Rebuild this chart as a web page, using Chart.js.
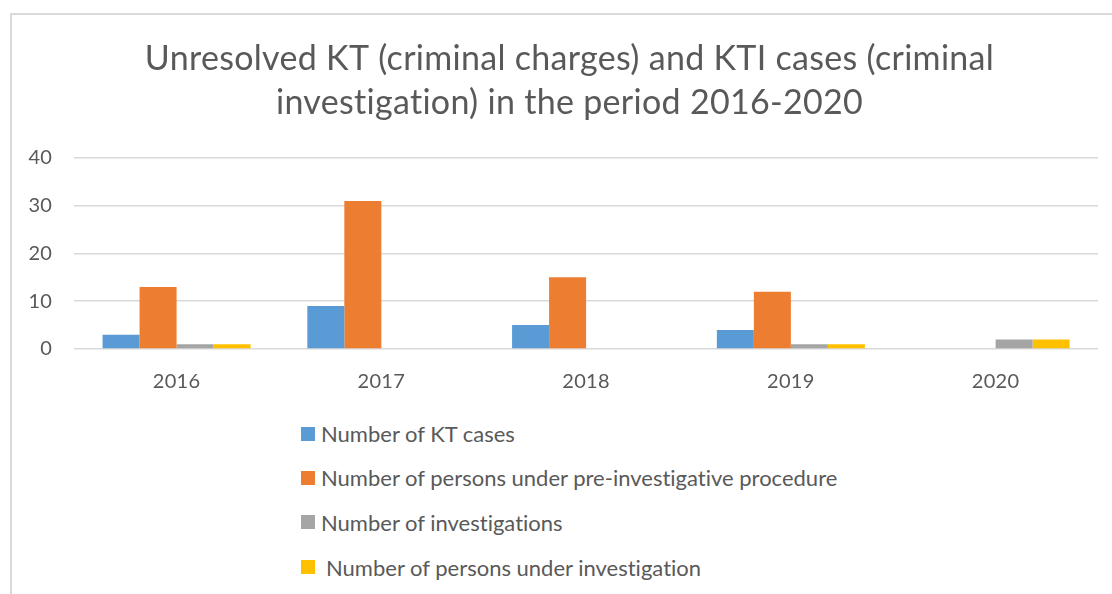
<!DOCTYPE html>
<html>
<head>
<meta charset="utf-8">
<script src="https://cdn.jsdelivr.net/npm/chart.js@4"></script>
<style>
  html, body { margin: 0; padding: 0; background: #fff; }
  #wrap { position: relative; width: 1112px; height: 594px; overflow: hidden; }
  #frame { position: absolute; left: 10px; top: 13px; width: 1200px; height: 700px;
           border-left: 2px solid #d9d9d9; border-top: 2px solid #d9d9d9; }
  #chartBox { position: absolute; left: 0; top: 0; width: 1112px; height: 407px; }
  #legend { position: absolute; left: 301px; top: 0; font-family: Lato, sans-serif;
            font-size: 22px; color: #595959; font-variant-ligatures: none; }
  .item { position: absolute; height: 30px; white-space: nowrap; display: flex; align-items: center; }
  .box { width: 14px; height: 14px; margin-right: 6px; flex: none; }
</style>
</head>
<body>
<div id="wrap">
  <div id="frame"></div>
  <div id="chartBox"><canvas id="chart"></canvas></div>
  <div id="legend"></div>
</div>
<script>
const years = ["2016", "2017", "2018", "2019", "2020"];
const ktCases = [3, 9, 5, 4, 0];
const preInvestigation = [13, 31, 15, 12, 0];
const investigations = [1, 0, 0, 1, 2];
const personsInvestigated = [1, 0, 0, 1, 2];
const seriesNames = [
  "Number of KT cases",
  "Number of persons under pre-investigative procedure",
  "Number of investigations",
  "Number of persons under investigation"
];
const colors = ["#5b9bd5", "#ed7d31", "#a5a5a5", "#ffc000"];

const textColor = "#595959";
const fontFamily = "Lato, sans-serif";

// small letter spacing keeps canvas text from using the "ti" ligature,
// and the title is centred over the frame rather than the whole canvas
const tweaks = {
  id: "tweaks",
  afterLayout(chart) {
    if (chart.titleBlock) chart.titleBlock.left = 41;
  },
  beforeDraw(chart) { chart.ctx.letterSpacing = "0.3px"; }
};

const chart = new Chart(document.getElementById("chart"), {
  type: "bar",
  data: {
    labels: years,
    datasets: [ktCases, preInvestigation, investigations, personsInvestigated].map((d, i) => ({
      label: seriesNames[i],
      data: d,
      backgroundColor: colors[i],
      categoryPercentage: 0.723,
      barPercentage: 1.0
    }))
  },
  plugins: [tweaks],
  options: {
    responsive: true,
    maintainAspectRatio: false,
    animation: false,
    layout: { padding: { left: 7, right: 14, top: 37, bottom: 0 } },
    plugins: {
      legend: { display: false },
      tooltip: { enabled: false },
      title: {
        display: true,
        text: ["Unresolved KT (criminal charges) and KTI cases (criminal", "investigation) in the period 2016-2020"],
        color: textColor,
        font: { family: fontFamily, size: 34, weight: "normal", lineHeight: 1.294 },
        padding: { top: 0, bottom: 33 }
      }
    },
    scales: {
      x: {
        grid: { display: false },
        border: { display: false },
        ticks: { color: textColor, font: { family: fontFamily, size: 20 }, padding: 13 }
      },
      y: {
        min: 0,
        max: 40,
        ticks: { stepSize: 10, color: textColor, font: { family: fontFamily, size: 20 }, padding: 22 },
        grid: { color: "#d9d9d9", lineWidth: 1.5, drawTicks: false },
        border: { display: false }
      }
    }
  }
});

const legendCenters = [433.5, 477.5, 522, 567];
const legendEl = document.getElementById("legend");
chart.data.datasets.forEach((ds, i) => {
  const item = document.createElement("div");
  item.className = "item";
  item.style.top = (legendCenters[i] - 15) + "px";
  const box = document.createElement("span");
  box.className = "box";
  box.style.background = ds.backgroundColor;
  if (i === 3) box.style.marginRight = "11px";
  const label = document.createElement("span");
  label.textContent = ds.label;
  item.appendChild(box);
  item.appendChild(label);
  legendEl.appendChild(item);
});
</script>
</body>
</html>
